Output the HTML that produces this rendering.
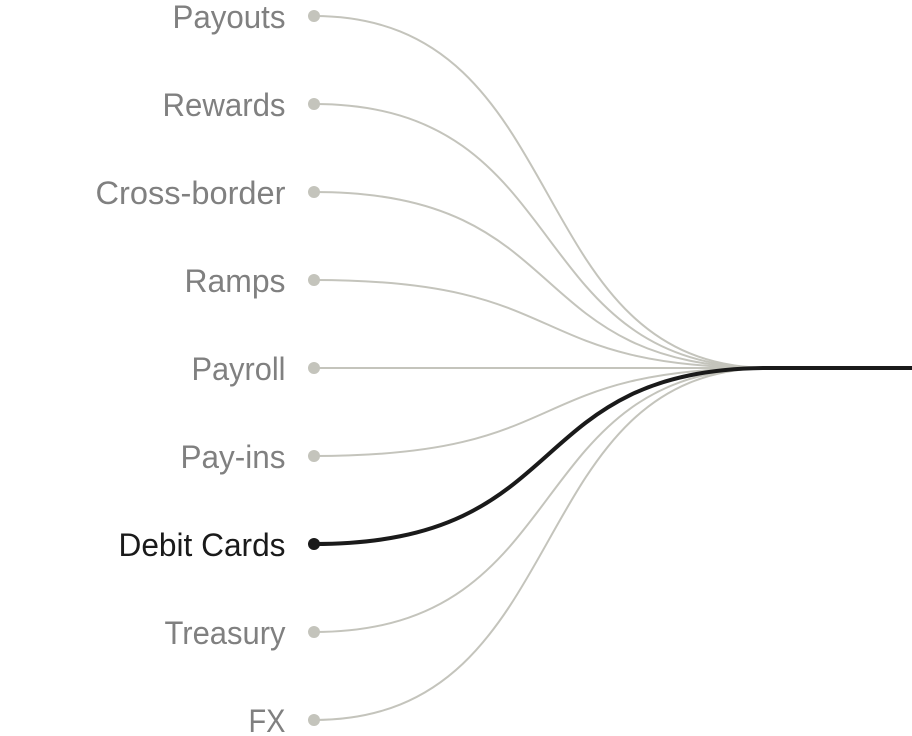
<!DOCTYPE html>
<html><head><meta charset="utf-8"><style>
html,body{margin:0;padding:0;background:#fff;width:912px;height:736px;overflow:hidden}
svg{display:block}
text{font-family:"Liberation Sans",sans-serif;font-size:32px;fill:#808080;text-anchor:end}
path{fill:none;stroke:#c4c4bc;stroke-width:2}
circle{fill:#c4c4bc}
</style></head><body>
<svg width="912" height="736" viewBox="0 0 912 736" xmlns="http://www.w3.org/2000/svg">
<path d="M314 16C579 16 517 368 770 368"/>
<path d="M314 104C579 104 517 368 770 368"/>
<path d="M314 192C579 192 517 368 770 368"/>
<path d="M314 280C579 280 517 368 770 368"/>
<path d="M314 368H770"/>
<path d="M314 456C579 456 517 368 770 368"/>
<path d="M314 632C579 632 517 368 770 368"/>
<path d="M314 720C579 720 517 368 770 368"/>
<circle cx="314" cy="16" r="6"/><circle cx="314" cy="104" r="6"/><circle cx="314" cy="192" r="6"/><circle cx="314" cy="280" r="6"/><circle cx="314" cy="368" r="6"/><circle cx="314" cy="456" r="6"/><circle cx="314" cy="632" r="6"/><circle cx="314" cy="720" r="6"/>
<path d="M314 544C579 544 517 368 770 368H912" style="stroke:#1a1a1a;stroke-width:4"/>
<circle cx="314" cy="544" r="6" style="fill:#1a1a1a"/>
<text x="285.5" y="28" textLength="113" lengthAdjust="spacingAndGlyphs">Payouts</text>
<text x="285.5" y="116" textLength="123" lengthAdjust="spacingAndGlyphs">Rewards</text>
<text x="285.5" y="204" textLength="190" lengthAdjust="spacingAndGlyphs">Cross-border</text>
<text x="285.5" y="292" textLength="101" lengthAdjust="spacingAndGlyphs">Ramps</text>
<text x="285.5" y="380" textLength="94" lengthAdjust="spacingAndGlyphs">Payroll</text>
<text x="285.5" y="468" textLength="105" lengthAdjust="spacingAndGlyphs">Pay-ins</text>
<text x="285.5" y="556" textLength="167" lengthAdjust="spacingAndGlyphs" style="fill:#1a1a1a">Debit Cards</text>
<text x="285.5" y="644" textLength="121" lengthAdjust="spacingAndGlyphs">Treasury</text>
<text x="285.5" y="732" textLength="37" lengthAdjust="spacingAndGlyphs">FX</text>
</svg>
</body></html>
